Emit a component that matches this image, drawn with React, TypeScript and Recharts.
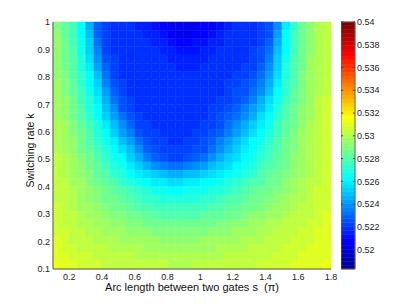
import { ScatterChart, Scatter, XAxis, YAxis, ReferenceArea, ReferenceLine } from "recharts";

// cell centres of the pcolor grid
const sGrid = [
  0.125, 0.175, 0.225, 0.275, 0.325, 0.375, 0.425, 0.475, 0.525, 0.575, 0.625, 0.675,
  0.725, 0.775, 0.825, 0.875, 0.925, 0.975, 1.025, 1.075, 1.125, 1.175, 1.225, 1.275,
  1.325, 1.375, 1.425, 1.475, 1.525, 1.575, 1.625, 1.675, 1.725, 1.775,
];
const kGrid = [
  0.985, 0.955, 0.925, 0.895, 0.865, 0.835, 0.805, 0.775, 0.745, 0.715, 0.685, 0.655, 0.625,
  0.595, 0.565, 0.535, 0.505, 0.475, 0.445, 0.415, 0.385, 0.355, 0.325, 0.295, 0.265, 0.235,
  0.205, 0.175, 0.145, 0.115,
];
const halfS = 0.025;
const halfK = 0.015;

// one row of values per switching rate k (top to bottom)
const k0985 = [0.5291,0.5283,0.5275,0.5262,0.5247,0.5228,0.5221,0.5219,0.5218,0.5217,0.5216,0.5214,0.5212,0.5209,0.5206,0.5204,0.5204,0.5205,0.5207,0.5210,0.5213,0.5215,0.5217,0.5218,0.5219,0.5221,0.5226,0.5240,0.5260,0.5274,0.5285,0.5293,0.5299,0.5304];
const k0955 = [0.5292,0.5284,0.5276,0.5263,0.5248,0.5229,0.5221,0.5219,0.5219,0.5218,0.5217,0.5216,0.5214,0.5211,0.5208,0.5206,0.5206,0.5207,0.5209,0.5212,0.5215,0.5217,0.5218,0.5219,0.5220,0.5222,0.5227,0.5242,0.5261,0.5275,0.5285,0.5293,0.5299,0.5304];
const k0925 = [0.5292,0.5285,0.5277,0.5265,0.5251,0.5232,0.5222,0.5220,0.5219,0.5219,0.5218,0.5217,0.5216,0.5214,0.5212,0.5210,0.5210,0.5211,0.5212,0.5214,0.5216,0.5218,0.5219,0.5219,0.5220,0.5223,0.5229,0.5245,0.5263,0.5276,0.5286,0.5294,0.5300,0.5304];
const k0895 = [0.5293,0.5286,0.5278,0.5267,0.5254,0.5236,0.5223,0.5220,0.5219,0.5219,0.5219,0.5218,0.5217,0.5216,0.5214,0.5213,0.5213,0.5213,0.5214,0.5216,0.5217,0.5218,0.5219,0.5220,0.5221,0.5224,0.5231,0.5248,0.5264,0.5277,0.5287,0.5294,0.5300,0.5305];
const k0865 = [0.5293,0.5287,0.5279,0.5269,0.5257,0.5240,0.5225,0.5221,0.5220,0.5219,0.5219,0.5219,0.5218,0.5217,0.5216,0.5215,0.5215,0.5215,0.5216,0.5217,0.5218,0.5219,0.5220,0.5220,0.5222,0.5226,0.5235,0.5251,0.5266,0.5278,0.5288,0.5295,0.5300,0.5305];
const k0835 = [0.5294,0.5288,0.5280,0.5270,0.5259,0.5244,0.5228,0.5222,0.5220,0.5219,0.5219,0.5219,0.5218,0.5218,0.5217,0.5216,0.5216,0.5216,0.5217,0.5218,0.5219,0.5219,0.5220,0.5221,0.5223,0.5228,0.5238,0.5254,0.5268,0.5279,0.5288,0.5295,0.5301,0.5305];
const k0805 = [0.5294,0.5289,0.5281,0.5272,0.5261,0.5248,0.5232,0.5223,0.5220,0.5219,0.5219,0.5219,0.5218,0.5218,0.5217,0.5217,0.5217,0.5217,0.5218,0.5218,0.5219,0.5220,0.5221,0.5222,0.5225,0.5231,0.5242,0.5257,0.5270,0.5280,0.5289,0.5296,0.5301,0.5305];
const k0775 = [0.5295,0.5290,0.5282,0.5274,0.5264,0.5252,0.5237,0.5225,0.5221,0.5220,0.5219,0.5219,0.5219,0.5218,0.5218,0.5217,0.5217,0.5217,0.5218,0.5219,0.5220,0.5221,0.5222,0.5224,0.5228,0.5235,0.5246,0.5260,0.5272,0.5281,0.5289,0.5296,0.5301,0.5305];
const k0745 = [0.5295,0.5291,0.5284,0.5276,0.5266,0.5255,0.5242,0.5229,0.5222,0.5220,0.5220,0.5219,0.5219,0.5218,0.5218,0.5218,0.5218,0.5218,0.5219,0.5219,0.5220,0.5222,0.5224,0.5227,0.5232,0.5240,0.5250,0.5263,0.5274,0.5282,0.5290,0.5296,0.5301,0.5305];
const k0715 = [0.5296,0.5292,0.5285,0.5277,0.5268,0.5258,0.5246,0.5233,0.5224,0.5221,0.5220,0.5219,0.5219,0.5219,0.5218,0.5218,0.5218,0.5219,0.5219,0.5220,0.5221,0.5223,0.5226,0.5230,0.5236,0.5245,0.5255,0.5266,0.5276,0.5284,0.5291,0.5297,0.5302,0.5306];
const k0685 = [0.5297,0.5293,0.5286,0.5279,0.5271,0.5261,0.5250,0.5238,0.5227,0.5222,0.5220,0.5220,0.5219,0.5219,0.5219,0.5219,0.5219,0.5219,0.5220,0.5221,0.5223,0.5225,0.5229,0.5234,0.5241,0.5250,0.5259,0.5269,0.5278,0.5285,0.5292,0.5297,0.5302,0.5306];
const k0655 = [0.5298,0.5294,0.5288,0.5281,0.5273,0.5264,0.5254,0.5243,0.5232,0.5224,0.5221,0.5220,0.5220,0.5219,0.5219,0.5219,0.5219,0.5220,0.5220,0.5222,0.5225,0.5228,0.5233,0.5239,0.5246,0.5255,0.5263,0.5272,0.5280,0.5287,0.5293,0.5298,0.5302,0.5306];
const k0625 = [0.5299,0.5295,0.5289,0.5283,0.5276,0.5268,0.5259,0.5249,0.5238,0.5228,0.5223,0.5221,0.5220,0.5220,0.5219,0.5219,0.5220,0.5220,0.5221,0.5223,0.5227,0.5232,0.5238,0.5245,0.5252,0.5260,0.5267,0.5275,0.5282,0.5288,0.5294,0.5299,0.5303,0.5306];
const k0595 = [0.5300,0.5296,0.5291,0.5285,0.5278,0.5271,0.5263,0.5254,0.5244,0.5234,0.5226,0.5222,0.5221,0.5220,0.5220,0.5220,0.5220,0.5221,0.5222,0.5225,0.5230,0.5236,0.5243,0.5250,0.5257,0.5264,0.5270,0.5277,0.5284,0.5289,0.5295,0.5299,0.5303,0.5307];
const k0565 = [0.5300,0.5297,0.5292,0.5286,0.5280,0.5274,0.5267,0.5259,0.5250,0.5241,0.5231,0.5224,0.5222,0.5221,0.5220,0.5220,0.5221,0.5222,0.5224,0.5228,0.5234,0.5241,0.5248,0.5255,0.5261,0.5267,0.5273,0.5279,0.5285,0.5290,0.5295,0.5300,0.5303,0.5307];
const k0535 = [0.5301,0.5298,0.5293,0.5288,0.5282,0.5276,0.5270,0.5263,0.5256,0.5248,0.5238,0.5229,0.5224,0.5222,0.5221,0.5221,0.5222,0.5224,0.5227,0.5232,0.5239,0.5246,0.5253,0.5259,0.5264,0.5270,0.5275,0.5281,0.5286,0.5291,0.5296,0.5300,0.5304,0.5307];
const k0505 = [0.5302,0.5299,0.5295,0.5290,0.5285,0.5279,0.5273,0.5267,0.5261,0.5254,0.5246,0.5237,0.5229,0.5225,0.5223,0.5223,0.5225,0.5228,0.5233,0.5239,0.5245,0.5251,0.5257,0.5262,0.5267,0.5272,0.5277,0.5282,0.5287,0.5292,0.5296,0.5300,0.5304,0.5307];
const k0475 = [0.5302,0.5300,0.5296,0.5292,0.5287,0.5282,0.5276,0.5271,0.5265,0.5259,0.5253,0.5247,0.5240,0.5235,0.5233,0.5233,0.5235,0.5239,0.5243,0.5248,0.5253,0.5257,0.5262,0.5266,0.5270,0.5275,0.5279,0.5284,0.5288,0.5293,0.5297,0.5301,0.5304,0.5307];
const k0445 = [0.5303,0.5301,0.5297,0.5293,0.5289,0.5284,0.5279,0.5274,0.5269,0.5264,0.5259,0.5255,0.5251,0.5248,0.5246,0.5246,0.5248,0.5250,0.5253,0.5256,0.5260,0.5263,0.5267,0.5270,0.5274,0.5278,0.5282,0.5286,0.5290,0.5294,0.5298,0.5301,0.5305,0.5307];
const k0415 = [0.5304,0.5302,0.5298,0.5295,0.5291,0.5287,0.5282,0.5278,0.5274,0.5270,0.5266,0.5263,0.5260,0.5258,0.5257,0.5257,0.5258,0.5259,0.5261,0.5264,0.5266,0.5269,0.5272,0.5275,0.5278,0.5281,0.5285,0.5288,0.5292,0.5295,0.5299,0.5302,0.5305,0.5308];
const k0385 = [0.5305,0.5302,0.5299,0.5296,0.5293,0.5289,0.5285,0.5282,0.5278,0.5275,0.5272,0.5269,0.5267,0.5265,0.5264,0.5264,0.5265,0.5266,0.5267,0.5269,0.5271,0.5274,0.5276,0.5279,0.5282,0.5285,0.5288,0.5291,0.5294,0.5297,0.5300,0.5303,0.5306,0.5308];
const k0355 = [0.5305,0.5303,0.5300,0.5297,0.5294,0.5291,0.5288,0.5285,0.5282,0.5279,0.5277,0.5274,0.5272,0.5271,0.5270,0.5270,0.5270,0.5271,0.5272,0.5274,0.5276,0.5278,0.5280,0.5283,0.5285,0.5288,0.5291,0.5293,0.5296,0.5299,0.5301,0.5304,0.5306,0.5308];
const k0325 = [0.5306,0.5304,0.5301,0.5298,0.5296,0.5293,0.5290,0.5288,0.5285,0.5283,0.5281,0.5279,0.5277,0.5276,0.5275,0.5275,0.5275,0.5276,0.5277,0.5278,0.5280,0.5282,0.5284,0.5286,0.5288,0.5291,0.5293,0.5295,0.5298,0.5300,0.5302,0.5304,0.5306,0.5308];
const k0295 = [0.5306,0.5304,0.5302,0.5300,0.5297,0.5295,0.5293,0.5291,0.5289,0.5287,0.5285,0.5283,0.5282,0.5281,0.5280,0.5280,0.5280,0.5281,0.5282,0.5283,0.5284,0.5286,0.5288,0.5290,0.5292,0.5294,0.5296,0.5298,0.5300,0.5302,0.5304,0.5305,0.5307,0.5309];
const k0265 = [0.5307,0.5305,0.5303,0.5301,0.5299,0.5297,0.5295,0.5293,0.5292,0.5290,0.5289,0.5288,0.5287,0.5286,0.5285,0.5285,0.5285,0.5286,0.5287,0.5288,0.5289,0.5290,0.5292,0.5293,0.5295,0.5297,0.5299,0.5300,0.5302,0.5304,0.5305,0.5307,0.5308,0.5309];
const k0235 = [0.5308,0.5306,0.5304,0.5302,0.5301,0.5299,0.5298,0.5296,0.5295,0.5294,0.5293,0.5292,0.5291,0.5290,0.5290,0.5290,0.5290,0.5290,0.5291,0.5292,0.5293,0.5294,0.5295,0.5296,0.5298,0.5299,0.5301,0.5302,0.5304,0.5305,0.5306,0.5308,0.5309,0.5310];
const k0205 = [0.5309,0.5307,0.5305,0.5304,0.5302,0.5301,0.5300,0.5299,0.5298,0.5297,0.5296,0.5295,0.5295,0.5294,0.5294,0.5294,0.5294,0.5294,0.5295,0.5295,0.5296,0.5297,0.5298,0.5299,0.5300,0.5301,0.5302,0.5304,0.5305,0.5306,0.5307,0.5308,0.5309,0.5310];
const k0175 = [0.5310,0.5308,0.5307,0.5305,0.5304,0.5303,0.5302,0.5301,0.5300,0.5299,0.5299,0.5298,0.5298,0.5297,0.5297,0.5297,0.5297,0.5297,0.5298,0.5298,0.5299,0.5300,0.5300,0.5301,0.5302,0.5303,0.5304,0.5305,0.5306,0.5307,0.5308,0.5309,0.5310,0.5311];
const k0145 = [0.5311,0.5309,0.5308,0.5307,0.5306,0.5305,0.5304,0.5303,0.5302,0.5302,0.5301,0.5301,0.5300,0.5300,0.5300,0.5299,0.5299,0.5300,0.5300,0.5300,0.5301,0.5302,0.5302,0.5303,0.5304,0.5305,0.5305,0.5306,0.5307,0.5308,0.5309,0.5310,0.5310,0.5311];
const k0115 = [0.5312,0.5310,0.5309,0.5308,0.5307,0.5306,0.5305,0.5305,0.5304,0.5303,0.5303,0.5302,0.5302,0.5302,0.5301,0.5301,0.5301,0.5302,0.5302,0.5302,0.5303,0.5303,0.5304,0.5305,0.5305,0.5306,0.5307,0.5307,0.5308,0.5309,0.5310,0.5310,0.5311,0.5312];

const rows = [
  k0985, k0955, k0925, k0895, k0865, k0835, k0805, k0775, k0745, k0715, k0685, k0655, k0625,
  k0595, k0565, k0535, k0505, k0475, k0445, k0415, k0385, k0355, k0325, k0295, k0265, k0235,
  k0205, k0175, k0145, k0115,
];

const sTicks = [0.2, 0.4, 0.6, 0.8, 1, 1.2, 1.4, 1.6, 1.8];
const kTicks = [0.1, 0.2, 0.3, 0.4, 0.5, 0.6, 0.7, 0.8, 0.9, 1];
const barTicks = [0.52, 0.522, 0.524, 0.526, 0.528, 0.53, 0.532, 0.534, 0.536, 0.538, 0.54];
const cLow = 0.5183;
const cHigh = 0.54;
const nColors = 64;

const FONT = "'Liberation Sans', Arial, sans-serif";

// matlab jet(64)
function jetU(k: number) {
  if (k < 1 || k > 47) return 0;
  if (k <= 16) return k / 16;
  if (k <= 31) return 1;
  return (48 - k) / 16;
}
function jetColor(i: number) {
  const j = i + 1;
  const r = jetU(j - 24);
  const g = jetU(j - 8);
  const b = jetU(j + 8);
  const h = (v: number) => Math.round(v * 255).toString(16).padStart(2, "0");
  return "#" + h(r) + h(g) + h(b);
}
function colorOf(v: number) {
  let i = Math.floor(((v - cLow) / (cHigh - cLow)) * nColors);
  i = Math.max(0, Math.min(nColors - 1, i));
  return jetColor(i);
}

const levels = Array.from({ length: nColors }, (_, i) => i);
const step = (cHigh - cLow) / nColors;

export default function App() {
  const tick = { fontSize: 9, fill: "#222", fontFamily: FONT };
  return (
    <div style={{ position: "absolute", left: 0, top: 0, width: 405, height: 304, background: "#fff" }}>
      <div style={{ position: "absolute", left: 0, top: 0 }}>
        <ScatterChart width={405} height={304} margin={{ top: 22, right: 74, bottom: 5, left: 9 }}>
          {rows.map((row, r) =>
            row.map((v, c) => (
              <ReferenceArea
                key={r + "-" + c}
                x1={sGrid[c] - halfS}
                x2={sGrid[c] + halfS}
                y1={kGrid[r] - halfK}
                y2={kGrid[r] + halfK}
                fill={colorOf(v)}
                fillOpacity={1}
                stroke={colorOf(v)}
                strokeWidth={0.5}
                ifOverflow="visible"
              />
            ))
          )}
          <XAxis
            type="number"
            dataKey="s"
            domain={[0.1, 1.8]}
            ticks={sTicks}
            allowDataOverflow
            height={30}
            tickSize={0}
            tickMargin={5}
            tick={tick}
            axisLine={{ stroke: "#555" }}
            label={{
              content: (p: any) => (
                <text
                  x={p.viewBox.x + p.viewBox.width / 2}
                  y={p.viewBox.y + 22}
                  textAnchor="middle"
                  fontSize={11}
                  fontFamily={FONT}
                  fill="#111"
                  style={{ whiteSpace: "pre" }}
                >
                  {"Arc length between two gates s  (π)"}
                </text>
              ),
            }}
          />
          <YAxis
            type="number"
            dataKey="k"
            domain={[0.1, 1]}
            ticks={kTicks}
            allowDataOverflow
            width={44}
            tickSize={0}
            tickMargin={3}
            tick={tick}
            axisLine={{ stroke: "#555" }}
            label={{
              content: (p: any) => {
                const x = p.viewBox.x + 25;
                const y = p.viewBox.y + p.viewBox.height / 2 + 5;
                return (
                  <text
                    x={x}
                    y={y}
                    transform={`rotate(-90, ${x}, ${y})`}
                    textAnchor="middle"
                    fontSize={10.5}
                    fontFamily={FONT}
                    fill="#111"
                  >
                    Switching rate k
                  </text>
                );
              },
            }}
          />
          <Scatter data={[]} isAnimationActive={false} />
        </ScatterChart>
      </div>
      <div style={{ position: "absolute", left: 341, top: 0 }}>
        <ScatterChart width={64} height={304} margin={{ top: 22, right: 0, bottom: 35, left: 0 }}>
          {levels.map((i) => (
            <ReferenceArea
              key={i}
              x1={0}
              x2={1}
              y1={cLow + i * step}
              y2={cLow + (i + 1) * step}
              fill={jetColor(i)}
              fillOpacity={1}
              stroke={jetColor(i)}
              strokeWidth={0.5}
              ifOverflow="visible"
            />
          ))}
          {barTicks.map((t) => (
            <ReferenceLine
              key={"l" + t}
              segment={[{ x: 0, y: t }, { x: 0.15, y: t }]}
              stroke="#444"
              strokeWidth={1}
              ifOverflow="visible"
            />
          ))}
          {barTicks.map((t) => (
            <ReferenceLine
              key={"r" + t}
              segment={[{ x: 0.85, y: t }, { x: 1, y: t }]}
              stroke="#444"
              strokeWidth={1}
              ifOverflow="visible"
            />
          ))}
          <ReferenceArea x1={0} x2={1} y1={cLow} y2={cHigh} fill="none" stroke="#666" strokeWidth={1} ifOverflow="visible" />
          <XAxis type="number" dataKey="x" domain={[0, 1]} hide allowDataOverflow />
          <YAxis
            type="number"
            dataKey="v"
            orientation="right"
            domain={[cLow, cHigh]}
            ticks={barTicks}
            allowDataOverflow
            width={50}
            tickSize={0}
            tickMargin={2}
            tick={tick}
            axisLine={false}
          />
          <Scatter data={[]} isAnimationActive={false} />
        </ScatterChart>
      </div>
    </div>
  );
}
